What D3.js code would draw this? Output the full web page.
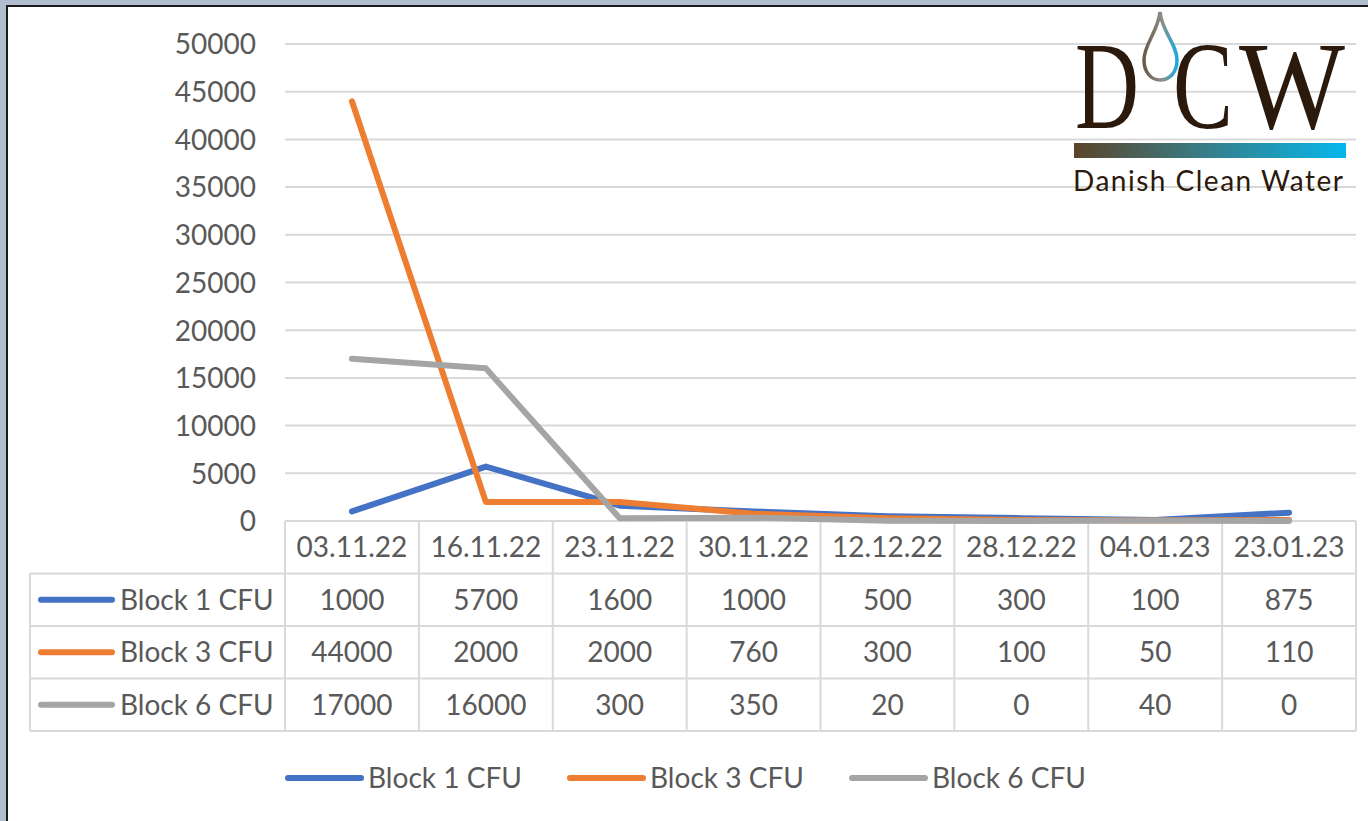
<!DOCTYPE html>
<html>
<head>
<meta charset="utf-8">
<script src="https://cdn.jsdelivr.net/npm/d3@7"></script>
<style>
  html, body { margin: 0; padding: 0; background: #b2bccf; }
  svg { display: block; }
</style>
</head>
<body>
<svg id="chart" width="1368" height="821"></svg>
<script>
// Sampling dates (table header / x categories)
const dates = ["03.11.22", "16.11.22", "23.11.22", "30.11.22", "12.12.22", "28.12.22", "04.01.23", "23.01.23"];
// CFU counts per block
const block1 = [1000, 5700, 1600, 1000, 500, 300, 100, 875];
const block3 = [44000, 2000, 2000, 760, 300, 100, 50, 110];
const block6 = [17000, 16000, 300, 350, 20, 0, 40, 0];
const seriesNames = ["Block 1 CFU", "Block 3 CFU", "Block 6 CFU"];
const seriesColors = ["#4472c4", "#ed7d31", "#a5a5a5"];
const yTicks = [0, 5000, 10000, 15000, 20000, 25000, 30000, 35000, 40000, 45000, 50000];

const series = [block1, block3, block6].map((v, i) => ({ name: seriesNames[i], color: seriesColors[i], values: v }));

const svg = d3.select("#chart");
const FONT = "Lato, 'Open Sans', sans-serif";
const TXT = "#595959";
const GRID = "#d9d9d9";
const FS = 28;

// frame
svg.append("rect").attr("x", 0).attr("y", 0).attr("width", 1368).attr("height", 821).attr("fill", "#b2bccf");
svg.append("rect").attr("x", 7).attr("y", 6).attr("width", 1368).attr("height", 830)
  .attr("fill", "#fff").attr("stroke", "#1a1a1a").attr("stroke-width", 2);

const x = d3.scaleBand().domain(dates).range([285, 1356]);
const y = d3.scaleLinear().domain([0, 50000]).range([521, 44]);

// horizontal gridlines
svg.append("g").selectAll("line").data(yTicks.filter(t => t > 0)).join("line")
  .attr("x1", 285).attr("x2", 1356)
  .attr("y1", d => y(d)).attr("y2", d => y(d))
  .attr("stroke", GRID).attr("stroke-width", 2);

// y axis labels
const yAxis = d3.axisLeft(y).tickValues(yTicks).tickSize(0).tickPadding(0).tickFormat(d3.format("d"));
const gy = svg.append("g").attr("transform", "translate(256,0)").call(yAxis);
gy.select(".domain").remove();
gy.selectAll("text").attr("font-family", FONT).attr("font-size", FS).attr("fill", TXT).attr("dy", "0.35em");

// logo
const logo = svg.append("g");
const defs = svg.append("defs");
const grad = defs.append("linearGradient").attr("id", "dcwGrad").attr("x1", "0%").attr("x2", "100%");
grad.append("stop").attr("offset", "0%").attr("stop-color", "#5b4429");
grad.append("stop").attr("offset", "45%").attr("stop-color", "#3a7a82");
grad.append("stop").attr("offset", "100%").attr("stop-color", "#06b6ec");
const dropGrad = defs.append("linearGradient").attr("id", "dropGrad").attr("x1", "0%").attr("x2", "100%");
dropGrad.append("stop").attr("offset", "0%").attr("stop-color", "#6b5a45");
dropGrad.append("stop").attr("offset", "55%").attr("stop-color", "#8a8f8a");
dropGrad.append("stop").attr("offset", "100%").attr("stop-color", "#1aa9e0");

logo.append("rect").attr("x", 1074).attr("y", 143).attr("width", 272).attr("height", 15).attr("fill", "url(#dcwGrad)");
// each logo letter is fitted to its own box by scaling the glyph
const dcw = [["D", 1075, 64], ["C", 1173, 60], ["W", 1239, 106]];
dcw.forEach(([ch, lx, w]) => {
  const g = logo.append("g");
  const t = g.append("text").attr("x", 0).attr("y", 0)
    .attr("font-family", "'Liberation Serif', serif").attr("font-size", 90).attr("fill", "#2b190c").text(ch);
  const nat = t.node().getComputedTextLength();
  g.attr("transform", `translate(${lx},128) scale(${w / nat},${124 / 90})`);
});
logo.append("path")
  .attr("d", "M1160,12 C1158,32 1144,44 1144,60 C1144,72 1151,80 1160,80 C1170,80 1177,72 1177,60 C1177,44 1162,32 1160,12 Z")
  .attr("fill", "#fff").attr("stroke", "url(#dropGrad)").attr("stroke-width", 3.5);
logo.append("text").attr("x", 1073).attr("y", 191)
  .attr("font-family", FONT).attr("font-size", 28).attr("fill", "#2b190c")
  .attr("textLength", 270).text("Danish Clean Water");

// data table
const tbl = svg.append("g");
const rowTop = 521, rowH = 52.5;
tbl.append("line").attr("x1", 285).attr("x2", 1356).attr("y1", rowTop).attr("y2", rowTop).attr("stroke", GRID).attr("stroke-width", 2);
for (let r = 1; r <= 4; r++) {
  tbl.append("line").attr("x1", 30).attr("x2", 1356).attr("y1", rowTop + r * rowH).attr("y2", rowTop + r * rowH)
    .attr("stroke", GRID).attr("stroke-width", 2);
}
tbl.append("line").attr("x1", 30).attr("x2", 30).attr("y1", rowTop + rowH).attr("y2", rowTop + 4 * rowH).attr("stroke", GRID).attr("stroke-width", 2);
const colEdges = dates.map(d => x(d)).concat([x.range()[1]]);
tbl.selectAll("line.v").data(colEdges).join("line")
  .attr("x1", d => d).attr("x2", d => d).attr("y1", rowTop).attr("y2", rowTop + 4 * rowH)
  .attr("stroke", GRID).attr("stroke-width", 2);

tbl.selectAll("text.date").data(dates).join("text")
  .attr("x", d => x(d) + x.bandwidth() / 2).attr("y", rowTop + rowH / 2)
  .attr("dy", "0.35em").attr("text-anchor", "middle")
  .attr("font-family", FONT).attr("font-size", FS).attr("fill", TXT).text(d => d);

series.forEach((s, i) => {
  const cy = rowTop + (i + 1.5) * rowH;
  tbl.append("line").attr("x1", 41).attr("x2", 112).attr("y1", cy).attr("y2", cy)
    .attr("stroke", s.color).attr("stroke-width", 6).attr("stroke-linecap", "round");
  tbl.append("text").attr("x", 120).attr("y", cy).attr("dy", "0.35em")
    .attr("font-family", FONT).attr("font-size", FS).attr("fill", TXT).text(s.name);
  tbl.selectAll("text.v" + i).data(s.values).join("text")
    .attr("x", (d, j) => x(dates[j]) + x.bandwidth() / 2).attr("y", cy).attr("dy", "0.35em")
    .attr("text-anchor", "middle").attr("font-family", FONT).attr("font-size", FS).attr("fill", TXT)
    .text(d => d);
});

// series lines
const line = d3.line().x((d, j) => x(dates[j]) + x.bandwidth() / 2).y(d => y(d));
svg.append("g").selectAll("path").data(series).join("path")
  .attr("d", d => line(d.values)).attr("fill", "none")
  .attr("stroke", d => d.color).attr("stroke-width", 6)
  .attr("stroke-linecap", "round").attr("stroke-linejoin", "round");

// legend
const legendX = [288, 570, 852];
const lg = svg.append("g").selectAll("g").data(series).join("g")
  .attr("transform", (d, i) => `translate(${legendX[i]},778)`);
lg.append("line").attr("x1", 0).attr("x2", 73).attr("stroke", d => d.color).attr("stroke-width", 6).attr("stroke-linecap", "round");
lg.append("text").attr("x", 80).attr("dy", "0.35em")
  .attr("font-family", FONT).attr("font-size", 28).attr("fill", TXT)
  .attr("textLength", 154).attr("lengthAdjust", "spacingAndGlyphs").text(d => d.name);
</script>
</body>
</html>
